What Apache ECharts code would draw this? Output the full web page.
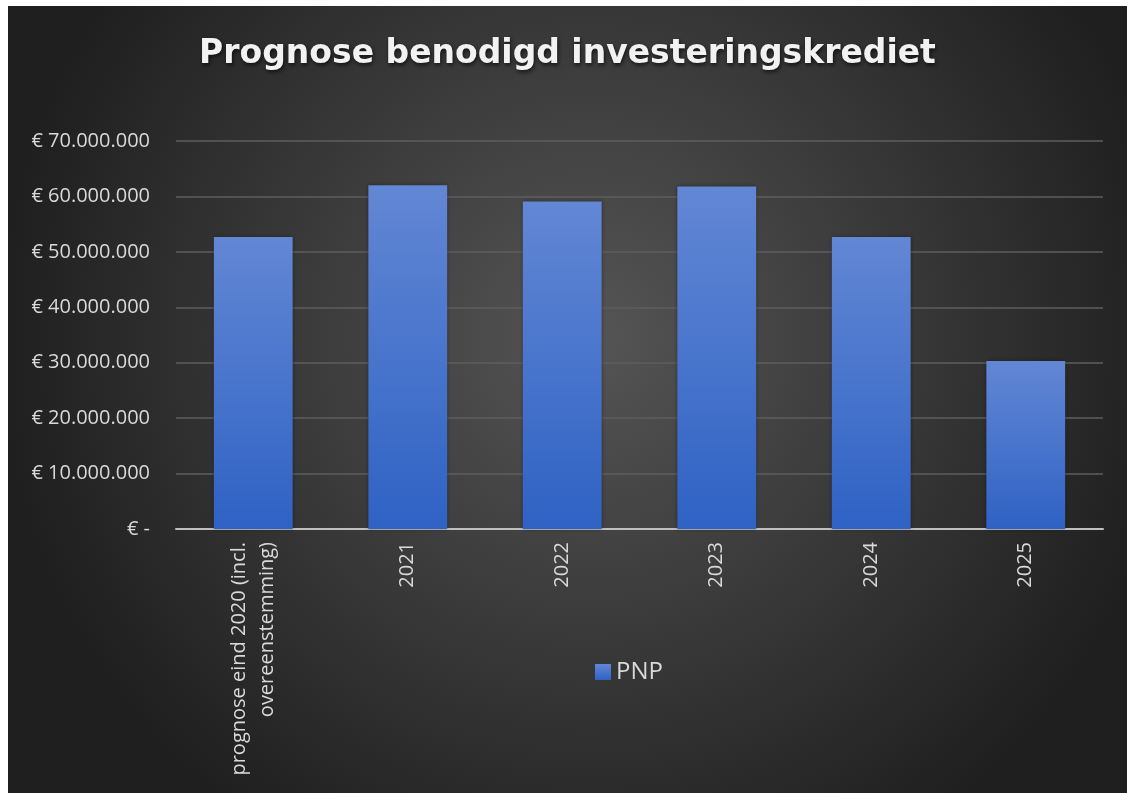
<!DOCTYPE html>
<html>
<head>
<meta charset="utf-8">
<script src="https://cdn.jsdelivr.net/npm/echarts@6/dist/echarts.min.js"></script>
<style>
html,body{margin:0;padding:0;background:#ffffff;}
#chart{position:absolute;left:8px;top:6px;width:1119px;height:787px;}
</style>
</head>
<body>
<div id="chart"></div>
<script>
const categories = ['prognose eind 2020 (incl.\novereenstemming)', '2021', '2022', '2023', '2024', '2025'];
const pnpValues = [52700000, 62000000, 59100000, 61800000, 52700000, 30300000];
const seriesName = 'PNP';
const titleText = 'Prognose benodigd investeringskrediet';

function fmt(v) {
  if (v === 0) return '€ -';
  return '€ ' + String(Math.round(v)).replace(/\B(?=(\d{3})+(?!\d))/g, '.');
}

const chart = echarts.init(document.getElementById('chart'));
chart.setOption({
  backgroundColor: {
    type: 'radial', x: 0.52, y: 0.42, r: 0.75,
    colorStops: [
      { offset: 0, color: '#555555' },
      { offset: 1, color: '#1f1f1f' }
    ]
  },
  animation: false,
  title: {
    text: titleText,
    left: 'center',
    top: 27,
    textStyle: {
      color: '#f2f2f2',
      fontFamily: 'DejaVu Sans',
      fontWeight: 'bold',
      fontSize: 33,
      textShadowColor: 'rgba(0,0,0,0.7)',
      textShadowBlur: 4,
      textShadowOffsetX: 1,
      textShadowOffsetY: 2
    }
  },
  legend: {
    data: [seriesName],
    left: 582,
    top: 649,
    itemWidth: 16,
    itemHeight: 16,
    itemGap: 7,
    icon: 'rect',
    textStyle: { color: '#d9d9d9', fontFamily: 'Open Sans', fontSize: 24 }
  },
  grid: { left: 168, right: 24, top: 135, bottom: 264, containLabel: false },
  xAxis: {
    type: 'category',
    data: categories,
    axisLine: { show: true, lineStyle: { color: '#bfbfbf', width: 2 } },
    axisTick: { show: false },
    axisLabel: {
      rotate: 90,
      interval: 0,
      margin: 13,
      color: '#d9d9d9',
      fontFamily: 'Open Sans',
      fontSize: 20,
      lineHeight: 28
    }
  },
  yAxis: {
    type: 'value',
    min: 0,
    max: 70000000,
    interval: 10000000,
    axisLine: { show: false },
    axisTick: { show: false },
    splitLine: { lineStyle: { color: '#5e5e5e', width: 1.5 } },
    axisLabel: {
      margin: 26,
      color: '#d9d9d9',
      fontFamily: 'Open Sans',
      fontSize: 20,
      formatter: fmt
    }
  },
  series: [{
    name: seriesName,
    type: 'bar',
    data: pnpValues,
    barCategoryGap: '49%',
    itemStyle: {
      color: {
        type: 'linear', x: 0, y: 0, x2: 0, y2: 1,
        colorStops: [
          { offset: 0, color: '#6287d4' },
          { offset: 1, color: '#2f62c4' }
        ]
      },
      shadowColor: 'rgba(0,0,0,0.35)',
      shadowBlur: 4
    }
  }]
});
</script>
</body>
</html>
